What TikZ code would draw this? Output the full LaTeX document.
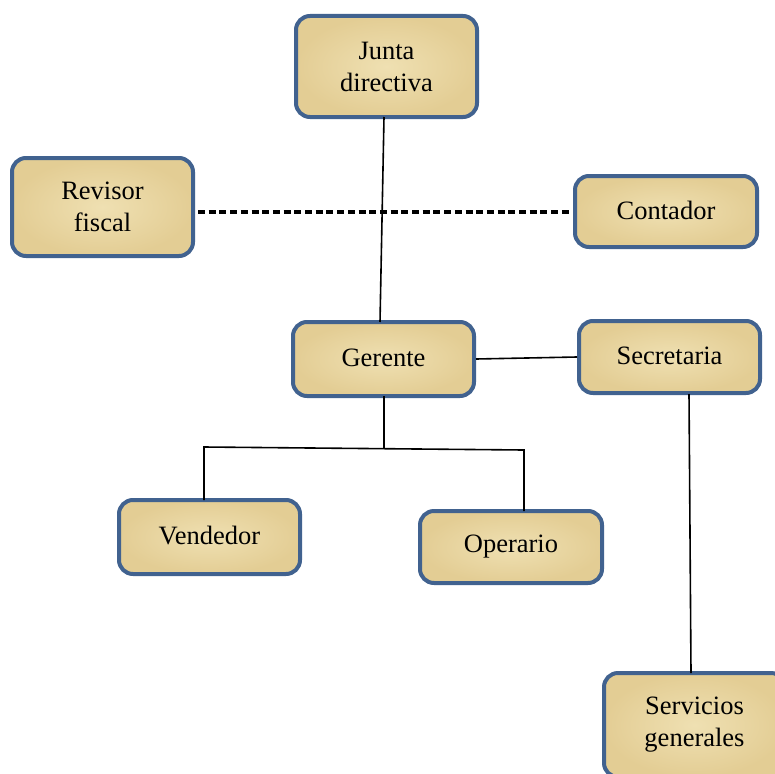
\documentclass[tikz,border=0pt]{standalone}
\usepackage{fontspec}
\setmainfont{Liberation Serif}
\definecolor{boxline}{HTML}{41628F}
\definecolor{parch}{HTML}{EFE0B2}
\definecolor{parchdark}{HTML}{E3CD94}
\newcommand{\upt}[1]{\raisebox{3pt}{#1}}
\begin{document}
\begin{tikzpicture}[x=1pt,y=-1pt,
  orgbox/.style={draw=boxline, line width=4pt, rounded corners=14pt,
    inner color=parch, outer color=parchdark, align=center,
    font=\fontsize{26.5}{32}\selectfont, inner sep=0pt},
  link/.style={draw=black, line width=1.6pt}]
\clip (0,0) rectangle (775,773);
\useasboundingbox (0,0) rectangle (775,773);
\node[orgbox, minimum width=181pt, minimum height=101pt] (junta) at (386.5,66.5) {Junta\\directiva};
\node[orgbox, minimum width=181pt, minimum height=98pt] (revisor) at (102.5,207) {Revisor\\fiscal};
\node[orgbox, minimum width=182pt, minimum height=71pt] (contador) at (666,211.5) {\upt{Contador}};
\node[orgbox, minimum width=181pt, minimum height=74pt] (gerente) at (383.5,359) {\upt{Gerente}};
\node[orgbox, minimum width=181pt, minimum height=72pt] (secre) at (669.5,357) {\upt{Secretaria}};
\node[orgbox, minimum width=181pt, minimum height=74pt] (vende) at (209.5,537) {\upt{Vendedor}};
\node[orgbox, minimum width=182pt, minimum height=72pt] (opera) at (511,547) {Operario};
\node[orgbox, minimum width=181pt, minimum height=104pt] (servi) at (694.5,725) {Servicios\\generales};
\coordinate (hj) at (384,117);
\coordinate (hg) at (380,322);
\draw[link] (hj) -- (hg);
\coordinate (dl) at (198,212);
\coordinate (dr) at (570,212);
\draw[black, line width=3.5pt, dash pattern=on 7pt off 3.7pt] (dl) -- (dr);
\draw[link] (gerente.east) -- (secre.west);
\coordinate (gb) at (384,396);
\coordinate (gm) at (384,448);
\coordinate (bl) at (204,447);
\coordinate (br) at (524,450);
\coordinate (vt) at (204,500);
\coordinate (ot) at (524,511);
\draw[link] (gb) -- (gm);
\draw[link] (vt) -- (bl) -- (br) -- (ot);
\coordinate (sb) at (689,394);
\coordinate (st) at (691,673);
\draw[link] (sb) -- (st);
\end{tikzpicture}
\end{document}
